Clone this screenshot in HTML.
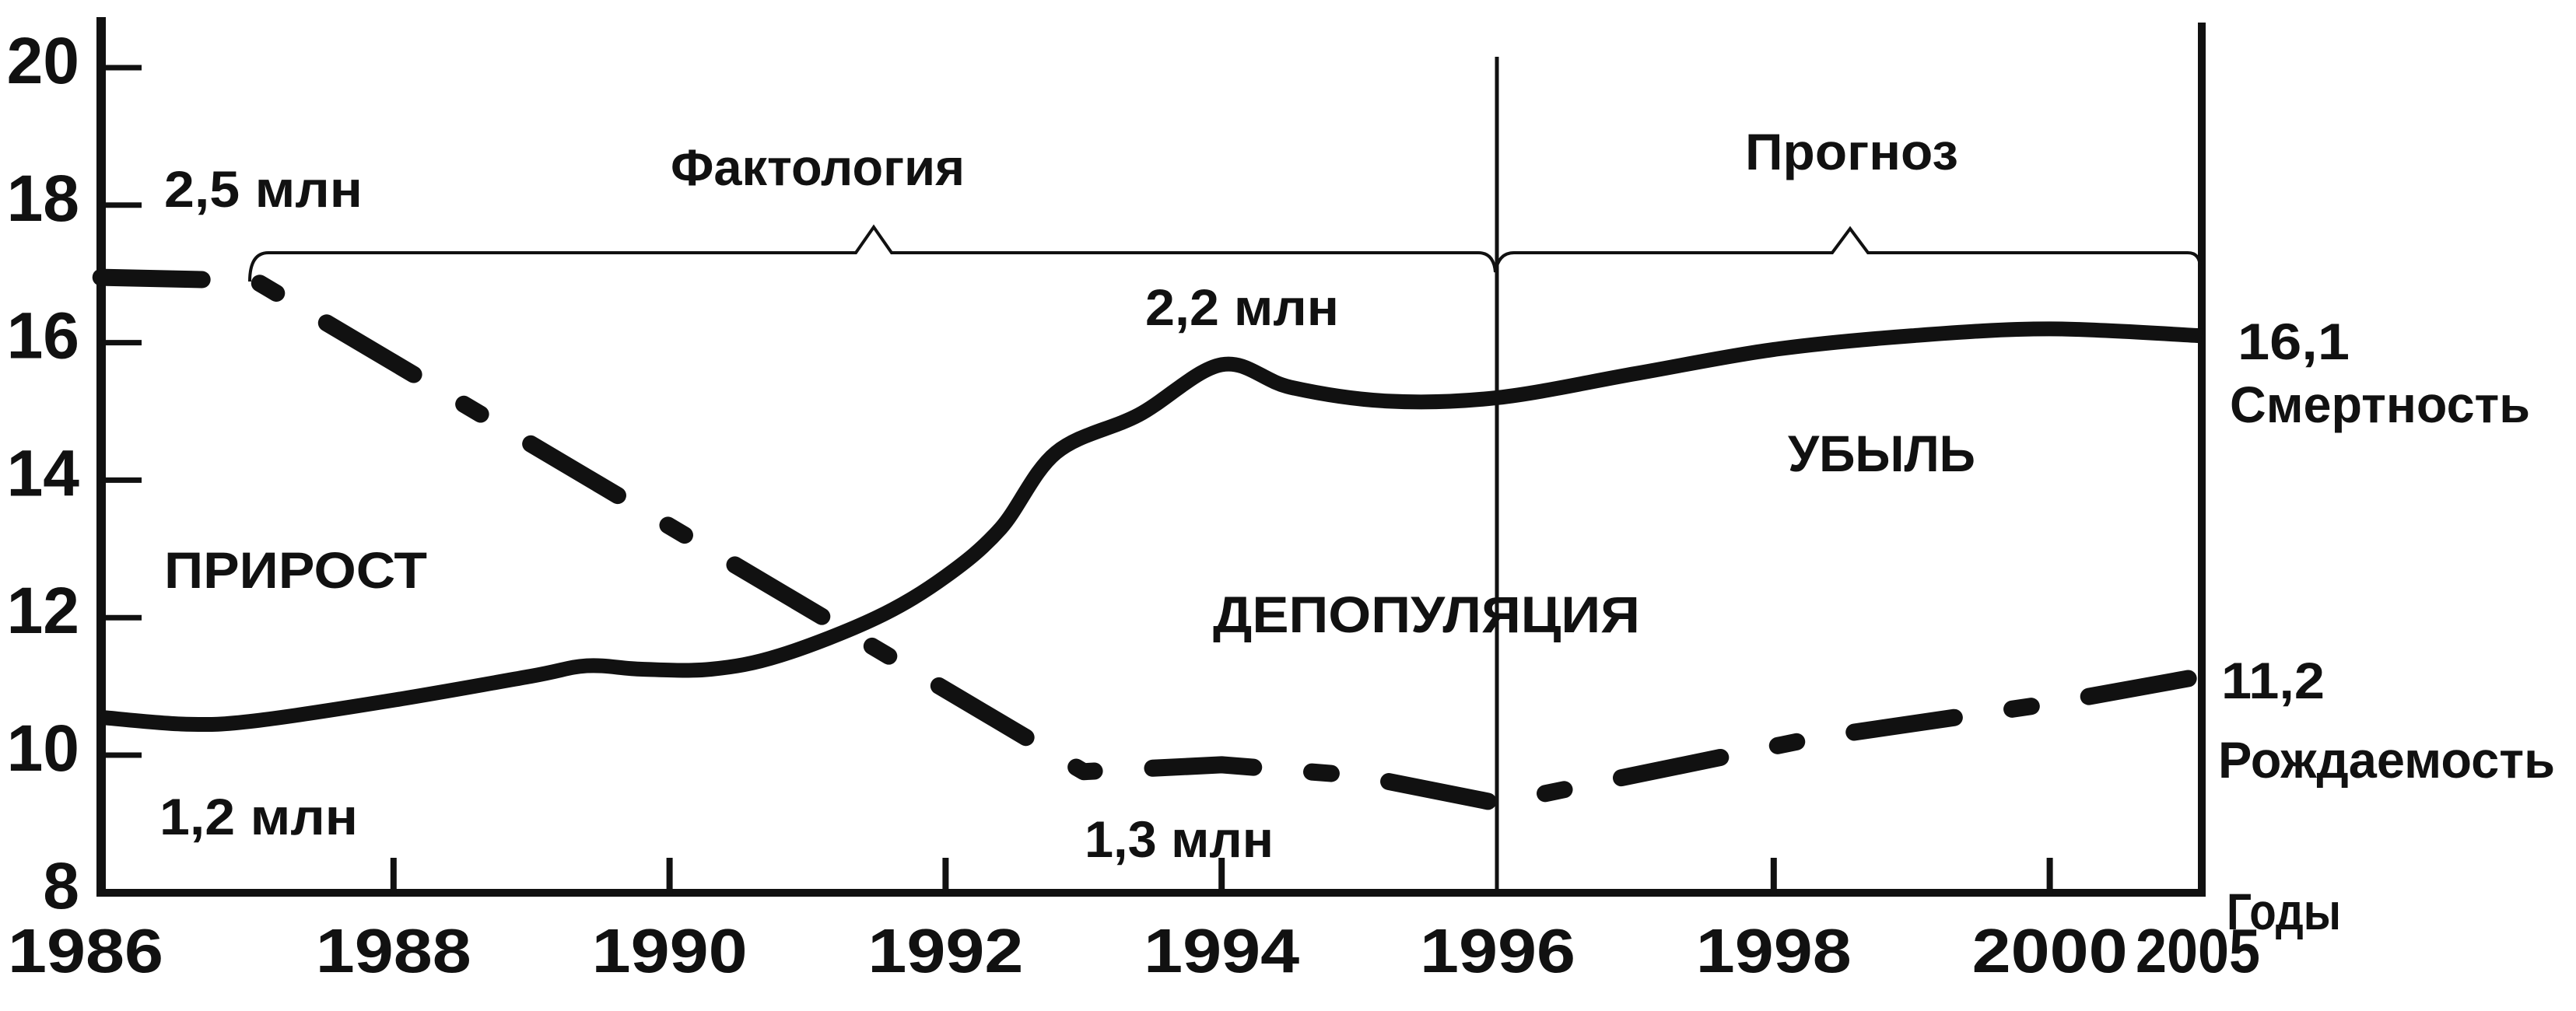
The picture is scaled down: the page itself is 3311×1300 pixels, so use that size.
<!DOCTYPE html>
<html><head><meta charset="utf-8"><style>
html,body{margin:0;padding:0;background:#fff;}
svg{display:block;}
text{font-family:"Liberation Sans Narrow","Liberation Sans",sans-serif;fill:#111;}
</style></head><body>
<svg id="chart" width="3311" height="1300" viewBox="0 0 3311 1300" xmlns="http://www.w3.org/2000/svg">
<g id="axes"></g>
<g id="marks"></g>
<g id="labels"></g>
</svg>
<script>
const yTicks = [8, 10, 12, 14, 16, 18, 20];
const xTickYears = [1988, 1990, 1992, 1994, 1996, 1998, 2000];
const xLabelYears = [1986, 1988, 1990, 1992, 1994, 1996, 1998, 2000];
const xLabelText = ["1986","1988","1990","1992","1994","1996","1998","2000"];
const deathYears = [1985.88, 1986.5, 1987, 1988, 1989, 1989.4, 1989.8, 1990.3, 1990.8, 1991.5, 1992, 1992.4, 1992.8, 1993.4, 1994, 1994.5, 1995.2, 1996, 1997, 1998, 1999, 2000, 2001];
const deathValues = [10.55, 10.45, 10.5, 10.8, 11.15, 11.3, 11.25, 11.25, 11.45, 12.0, 12.6, 13.3, 14.4, 14.95, 15.68, 15.35, 15.15, 15.2, 15.55, 15.9, 16.1, 16.2, 16.1];
const birthYears = [1985.88, 1987, 1993, 1994, 1995, 1996, 1998.3, 2000, 2001];
const birthValues = [16.95, 16.9, 9.76, 9.86, 9.7, 9.3, 10.25, 10.75, 11.15];

const NS = "http://www.w3.org/2000/svg";
function xScale(yr){ if(yr<=2000) return 151 + (yr-1986)*177.4; return 2634 + (yr-2000)*196; }
function yScale(v){ return 87 + (20-v)*88.4; }
function mk(tag, attrs, parent){ const e=document.createElementNS(NS,tag); for(const k in attrs) e.setAttribute(k,attrs[k]); parent.appendChild(e); return e; }
const axes=document.getElementById('axes'), marks=document.getElementById('marks'), labels=document.getElementById('labels');

const yAxis = mk('line',{x1:130,y1:22,x2:130,y2:1153,stroke:'#111','stroke-width':12},axes);
 
const xAxis = mk('line',{x1:124,y1:1148,x2:2835,y2:1148,stroke:'#111','stroke-width':10},axes);
 
const rAxis = mk('line',{x1:2830,y1:29,x2:2830,y2:1153,stroke:'#111','stroke-width':10},axes);
 
const divider = mk('line',{x1:1924,y1:73,x2:1924,y2:1148,stroke:'#111','stroke-width':5},axes);
 

yTicks.forEach(v=>{
  const y=yScale(v);
  const t=mk('line',{x1:130,y1:y,x2:182,y2:y,stroke:'#111','stroke-width':7},axes);
   
  const l=mk('text',{x:102,y:y+20,'text-anchor':'end','font-size':84,'font-weight':'bold'},axes);
  l.textContent=String(v);
   
});
xTickYears.forEach(yr=>{
  if(yr===1996) return;
  const x=xScale(yr);
  const t=mk('line',{x1:x,y1:1103,x2:x,y2:1148,stroke:'#111','stroke-width':8},axes);
   
});
xLabelYears.forEach((yr,i)=>{
  const x = i===0 ? 110 : xScale(yr);
  const l=mk('text',{x:x,y:1250,'text-anchor':'middle','font-size':80,'font-weight':'bold',textLength:200,lengthAdjust:'spacingAndGlyphs'},axes);
  l.textContent=xLabelText[i];
   
});
const l2005=mk('text',{x:2825,y:1250,'text-anchor':'middle','font-size':80,'font-weight':'bold',textLength:160,lengthAdjust:'spacingAndGlyphs'},axes);
l2005.textContent='2005';
 

function smoothPath(xs, ys){
  const p=xs.map((x,i)=>[xScale(x),yScale(ys[i])]);
  let d='M'+p[0][0]+','+p[0][1];
  for(let i=0;i<p.length-1;i++){
    const p0=p[i-1]||p[i], p1=p[i], p2=p[i+1], p3=p[i+2]||p2;
    const c1x=p1[0]+(p2[0]-p0[0])/6, c1y=p1[1]+(p2[1]-p0[1])/6;
    const c2x=p2[0]-(p3[0]-p1[0])/6, c2y=p2[1]-(p3[1]-p1[1])/6;
    d+=' C'+c1x+','+c1y+' '+c2x+','+c2y+' '+p2[0]+','+p2[1];
  }
  return d;
}
const death=mk('path',{d:smoothPath(deathYears,deathValues),fill:'none',stroke:'#111','stroke-width':19,'stroke-linejoin':'round'},marks);
 
let bd='';
birthYears.forEach((yr,i)=>{ bd+=(i?' L':'M')+xScale(yr)+','+yScale(birthValues[i]); });
const birth=mk('path',{d:bd,fill:'none',stroke:'#111','stroke-width':22,'stroke-linecap':'round','stroke-linejoin':'round','stroke-dasharray':'130 75 25 75'},marks);
 

const brace=mk('path',{d:'M321,362 Q321,325 345,325 L1100,325 L1123,292 L1146,325 L1900,325 Q1920,325 1922,350 Q1926,325 1946,325 L2355,325 L2378,294 L2401,325 L2812,325 Q2828,325 2828,345',fill:'none',stroke:'#111','stroke-width':4},axes);
 

const texts=[
 ['2,5 млн',211,266,66,255,'label-2-5-mln'],
 ['Фактология',862,238,66,378,'label-factology'],
 ['Прогноз',2243,218,66,274,'label-forecast'],
 ['2,2 млн',1472,418,66,249,'label-2-2-mln'],
 ['16,1',2876,462,66,144,'label-16-1'],
 ['Смертность',2866,543,66,386,'label-mortality'],
 ['УБЫЛЬ',2298,606,66,241,'label-decline'],
 ['ПРИРОСТ',211,756,66,338,'label-growth'],
 ['ДЕПОПУЛЯЦИЯ',1559,813,66,549,'label-depopulation'],
 ['11,2',2855,898,66,133,'label-11-2'],
 ['Рождаемость',2851,1000,66,433,'label-birth-rate'],
 ['1,2 млн',205,1073,66,255,'label-1-2-mln'],
 ['1,3 млн',1394,1102,66,243,'label-1-3-mln'],
 ['Годы',2862,1195,66,147,'label-years']
];
texts.forEach(t=>{
  const e=mk('text',{x:t[1],y:t[2],'font-size':t[3],'font-weight':'bold',textLength:t[4],lengthAdjust:'spacingAndGlyphs'},labels);
  e.textContent=t[0];
   
});
</script>
</body></html>
